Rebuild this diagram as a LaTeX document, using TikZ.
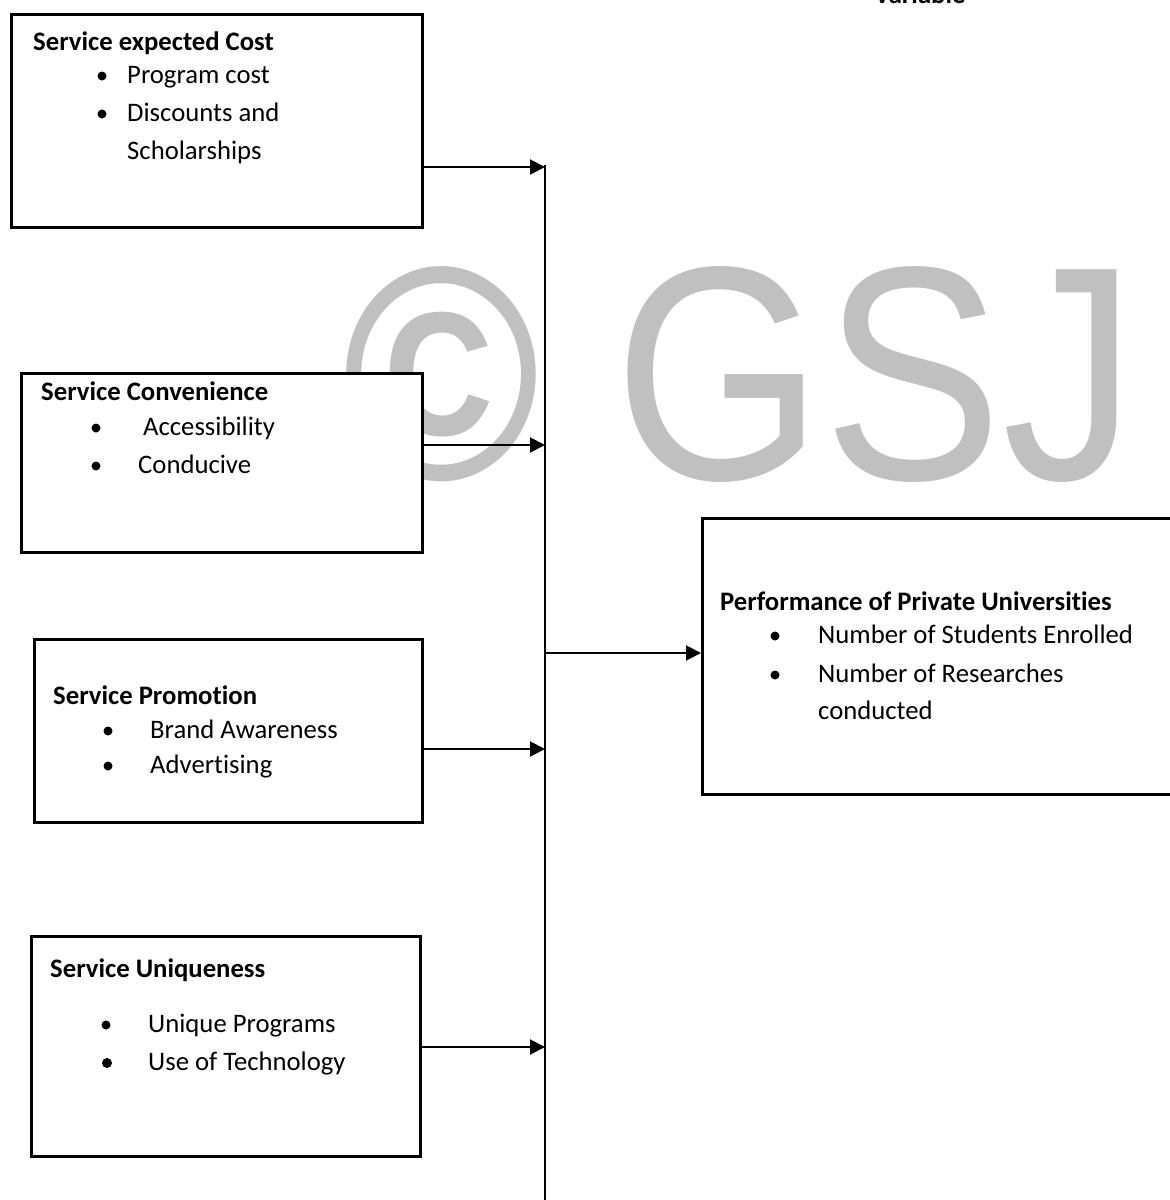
\documentclass[tikz,border=0pt]{standalone}
\usepackage{fontspec}
\setmainfont{Carlito}[Ligatures={NoCommon}]
\newfontfamily\wmfont{Liberation Sans}
\usetikzlibrary{arrows.meta}
\definecolor{wmgray}{RGB}{192,192,192}
\begin{document}
\begin{tikzpicture}[x=1pt,y=-1pt,
  box/.style={draw=black, line width=2.6pt, fill=white, inner sep=0pt, anchor=north west},
  txt/.style={anchor=base west, inner sep=0pt, font=\fontsize{26.7}{32}\selectfont},
  ttl/.style={anchor=base west, inner sep=0pt, font=\fontsize{26.7}{32}\selectfont\bfseries},
  dot/.style={circle, fill=black, inner sep=0pt, minimum size=9pt},
  arr/.style={line width=2pt, -{Triangle[length=15pt,width=15pt]}},
  bus/.style={line width=2pt},
]
\useasboundingbox (0,0) rectangle (1170,1200);
\clip (0,0) rectangle (1170,1200);
\fill[white] (0,0) rectangle (1170,1200);

% watermark
\node[anchor=base west, inner sep=0pt, text=wmgray] (wm) at (342,479)
  {\scalebox{0.88}[1]{\wmfont\fontsize{305}{305}\selectfont{\bfseries ©}\ GSJ}};

% header (cut off)
\node[anchor=base, inner sep=0pt, font=\fontsize{26.7}{32}\selectfont\bfseries] (hdr) at (920,3) {Variable};

% bus
\coordinate (bustop) at (545,165);
\coordinate (busbot) at (545,1205);
\draw[bus] (bustop) -- (busbot);
\coordinate (j1) at (545,167);
\coordinate (j2) at (545,445);
\coordinate (j3) at (545,749);
\coordinate (j4) at (545,1047);
\coordinate (j5) at (545,653);

% boxes
\node[box, minimum width=411pt, minimum height=213pt] (b1) at (10,13) {};
\node[box, minimum width=401pt, minimum height=179pt] (b2) at (20,372) {};
\node[box, minimum width=388pt, minimum height=183pt] (b3) at (33,638) {};
\node[box, minimum width=389pt, minimum height=220pt] (b4) at (30,935) {};
\node[box, minimum width=520pt, minimum height=276pt] (b5) at (701,517) {};

% box 1
\node[ttl] (t1) at (33,50) {Service expected Cost};
\node[dot] (d11) at (102,76) {};
\node[txt] (i11) at (127,83) {Program cost};
\node[dot] (d12) at (102,114) {};
\node[txt] (i12) at (127,121) {Discounts and};
\node[txt] (i13) at (127,159) {Scholarships};

% box 2
\node[ttl] (t2) at (41,400) {Service Convenience};
\node[dot] (d21) at (96,428) {};
\node[txt] (i21) at (143,435) {Accessibility};
\node[dot] (d22) at (96,466) {};
\node[txt] (i22) at (138,473) {Conducive};

% box 3
\node[ttl] (t3) at (53,704) {Service Promotion};
\node[dot] (d31) at (108,731) {};
\node[txt] (i31) at (150,738) {Brand Awareness};
\node[dot] (d32) at (108,766) {};
\node[txt] (i32) at (150,773) {Advertising};

% box 4
\node[ttl] (t4) at (50,977) {Service Uniqueness};
\node[dot] (d41) at (106,1025) {};
\node[txt] (i41) at (148,1032) {Unique Programs};
\node[dot, minimum size=10pt] (d42) at (107,1063) {};
\node[txt] (i42) at (148,1070) {Use of Technology};

% box 5
\node[ttl] (t5) at (720,610) {Performance of Private Universities};
\node[dot] (d51) at (775,636) {};
\node[txt] (i51) at (818,643) {Number of Students Enrolled};
\node[dot] (d52) at (775,675) {};
\node[txt] (i52) at (818,682) {Number of Researches};
\node[txt] (i53) at (818,719) {conducted};

% arrows
\draw[arr] (b1.east |- j1) -- (j1);
\draw[arr] (b2.east |- j2) -- (j2);
\draw[arr] (b3.east |- j3) -- (j3);
\draw[arr] (b4.east |- j4) -- (j4);
\draw[arr] (j5) -- (b5.west |- j5);
\end{tikzpicture}
\end{document}
